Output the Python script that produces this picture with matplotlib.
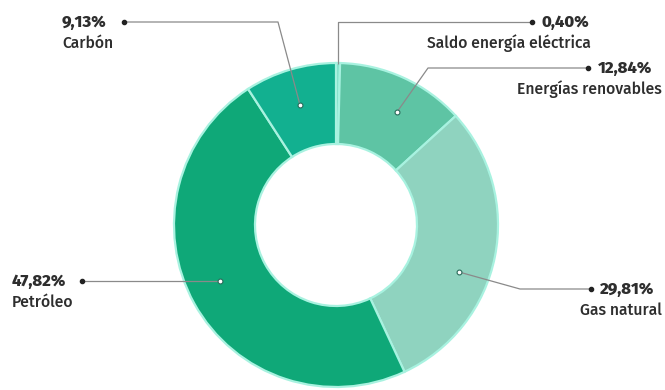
import matplotlib.pyplot as plt

# data, clockwise from 12 o'clock
labels = ["Saldo energía eléctrica", "Energías renovables", "Gas natural", "Petróleo", "Carbón"]
shares = [0.40, 12.84, 29.81, 47.82, 9.13]
share_text = ["0,40%", "12,84%", "29,81%", "47,82%", "9,13%"]
colors = ["#7fe0c8", "#5ec4a4", "#8fd3bf", "#0fa878", "#12b090"]

W, H = 665, 390
fig = plt.figure(figsize=(W / 100, H / 100), dpi=100)
ax = fig.add_axes([0, 0, 1, 1])

cx, cy, r = 336, 225, 162
# y axis is inverted, so counterclock=True draws clockwise on screen
ax.pie(shares, colors=colors, center=(cx, cy), radius=r, startangle=-90,
       counterclock=True, frame=True,
       wedgeprops=dict(width=r * 0.5, edgecolor="#a8f2e0", linewidth=1.6))
ax.set_xlim(0, W)
ax.set_ylim(H, 0)
ax.axis("off")

plt.rcParams['font.family'] = ['Fira Sans', 'Open Sans', 'DejaVu Sans']
txt = "#2e2e2e"
line = "#8a8a8a"

# leader lines: polyline from wedge to label dot
leaders = {
    "Saldo energía eléctrica": [(338, 64), (338, 22), (532, 22)],
    "Energías renovables": [(397, 112), (428, 68), (588, 68)],
    "Gas natural": [(459, 272), (520, 289), (591, 289)],
    "Petróleo": [(220, 281), (82, 281)],
    "Carbón": [(300, 105), (278, 22), (124, 22)],
}
for name, pts in leaders.items():
    xs = [p[0] for p in pts]
    ys = [p[1] for p in pts]
    ax.plot(xs, ys, color=line, lw=0.9, solid_capstyle="butt")
    if name != "Saldo energía eléctrica":
        ax.plot(xs[0], ys[0], 'o', ms=3.5, mfc="white", mec="#2a6a5a", mew=0.8)
    ax.plot(xs[-1], ys[-1], 'o', ms=3, color="#222222")

# labels on the right side
right = {
    "Saldo energía eléctrica": (542, 591, 22),
    "Energías renovables": (598, 662, 68),
    "Gas natural": (600, 662, 289),
}
for i, name in enumerate(labels):
    if name in right:
        x0, x1, y = right[name]
        ax.text(x0, y, share_text[i], ha="left", va="center", fontsize=12,
                fontweight="heavy", color=txt)
        ax.text(x1, y + 21, name, ha="right", va="center", fontsize=11.3,
                fontweight="medium", color=txt)

left = {"Carbón": (62, 22), "Petróleo": (12, 281)}
for i, name in enumerate(labels):
    if name in left:
        x0, y = left[name]
        ax.text(x0, y, share_text[i], ha="left", va="center", fontsize=12,
                fontweight="heavy", color=txt)
        ax.text(x0, y + 21, name, ha="left", va="center", fontsize=11.3,
                fontweight="medium", color=txt)

plt.savefig("out.png", dpi=100)
